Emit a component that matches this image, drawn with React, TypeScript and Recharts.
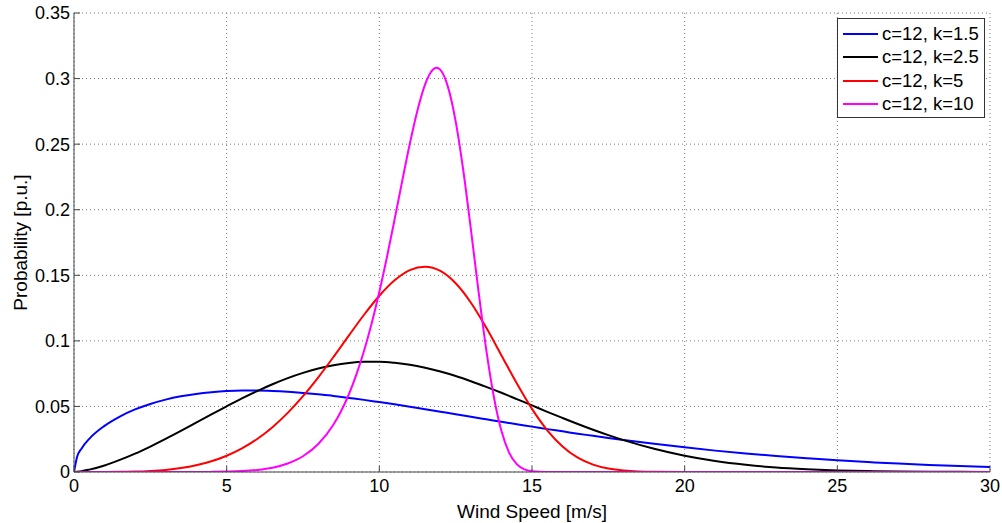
import { LineChart, Line, XAxis, YAxis, CartesianGrid, Legend } from "recharts";

// wind speed grid [m/s] (finer around the k=10 peak)
const windSpeed = [
  0, 0.1, 0.25, 0.5, 1, 1.5, 2, 2.5, 3, 3.5, 4, 4.5, 5, 5.5, 6, 6.5, 7, 7.5, 8, 8.5, 8.75,
  9, 9.25, 9.5, 9.75, 10, 10.25, 10.5, 10.75, 11, 11.25, 11.5, 11.75, 11.875, 12, 12.25, 12.5,
  12.75, 13, 13.25, 13.5, 13.75, 14, 14.25, 14.5, 14.75, 15, 15.5, 16, 16.5, 17, 17.5, 18,
  19, 20, 21, 22, 23, 24, 25, 26, 27, 28, 29, 30,
];

const probK15 = [
  0, 0.0114, 0.018, 0.0253, 0.0352, 0.0423, 0.0477, 0.0519, 0.0552, 0.0577, 0.0595, 0.0608, 0.0617, 0.0621, 0.0621, 0.0618, 0.0612, 0.0603, 0.0592, 0.058, null,
  0.0565, null, 0.055, null, 0.0533, null, 0.0516, null, 0.0498, null, 0.0479, null, null, 0.046, null, 0.0441,
  null, 0.0421, null, 0.0402, null, 0.0383, null, 0.0364, null, 0.0346, 0.0327, 0.031, 0.0292, 0.0276, 0.0259, 0.0244,
  0.0215, 0.0188, 0.0163, 0.0141, 0.0122, 0.0105, 0.0089, 0.0076, 0.0064, 0.0054, 0.0045, 0.0038,
];

const probK25 = [
  0, 0.0002, 0.0006, 0.0018, 0.005, 0.0092, 0.014, 0.0194, 0.0252, 0.0313, 0.0376, 0.0439, 0.0501, 0.0561, 0.0617, 0.0669, 0.0716, 0.0756, 0.0789, 0.0814, null,
  0.0831, null, 0.084, null, 0.0841, null, 0.0833, null, 0.0818, null, 0.0795, null, null, 0.0766, null, 0.0732,
  null, 0.0692, null, 0.0649, null, 0.0604, null, 0.0556, null, 0.0508, 0.0459, 0.0412, 0.0366, 0.0322, 0.0281, 0.0243,
  0.0177, 0.0124, 0.0084, 0.0055, 0.0034, 0.0021, 0.0012, 0.0007, 0.0004, 0.0002, 0.0001, 0,
];

const probK5 = [
  0, 0, 0, 0, 0, 0.0001, 0.0003, 0.0008, 0.0016, 0.003, 0.0051, 0.0082, 0.0124, 0.018, 0.0252, 0.0342, 0.0451, 0.0578, 0.0722, 0.0878, null,
  0.104, null, 0.1199, null, 0.1344, null, 0.1462, null, 0.154, null, 0.1566, null, null, 0.1533, null, 0.1439,
  null, 0.1291, null, 0.1101, null, 0.0889, null, 0.0676, null, 0.0481, 0.0318, 0.0195, 0.0109, 0.0056, 0.0026, 0.0011,
  0.0001, 0, 0, 0, 0, 0, 0, 0, 0, 0, 0, 0,
];

const probK10 = [
  0, 0, 0, 0, 0, 0, 0, 0, 0, 0, 0, 0.0001, 0.0003, 0.0007, 0.0016, 0.0033, 0.0065, 0.012, 0.0213, 0.0362, 0.0465,
  0.0591, 0.0744, 0.0924, 0.1134, 0.1374, 0.164, 0.1926, 0.222, 0.2505, 0.2759, 0.2956, 0.3067, 0.3082, 0.3066, 0.2935, 0.2674,
  0.2299, 0.1848, 0.1375, 0.0935, 0.0574, 0.0312, 0.0148, 0.006, 0.002, 0.0006, 0, 0, 0, 0, 0, 0,
  0, 0, 0, 0, 0, 0, 0, 0, 0, 0, 0, 0,
];

const seriesNames = ["c=12, k=1.5", "c=12, k=2.5", "c=12, k=5", "c=12, k=10"];
const seriesColors = ["#0000ff", "#000000", "#ff0000", "#ff00ff"];

const xTicks = [0, 5, 10, 15, 20, 25, 30];
const yTicks = [0, 0.05, 0.1, 0.15, 0.2, 0.25, 0.3, 0.35];

const data = windSpeed.map((v, i) => ({
  v,
  k15: probK15[i],
  k25: probK25[i],
  k5: probK5[i],
  k10: probK10[i],
}));

const font = "'Liberation Sans', Arial, sans-serif";
const tickStyle = { fill: "#000", fontSize: 18, fontFamily: font };
const labelStyle = { fill: "#000", fontSize: 19, fontFamily: font };

function LegendBox({ payload }: any) {
  // keep the plotting order, not alphabetical
  const items = [...(payload || [])].sort(
    (a: any, b: any) => seriesNames.indexOf(a.value) - seriesNames.indexOf(b.value)
  );
  return (
    <div
      style={{
        width: 148,
        height: 100,
        boxSizing: "border-box",
        border: "1px solid #333",
        background: "#fff",
        paddingTop: 3,
        fontFamily: font,
        fontSize: 18.5,
      }}
    >
      {items.map((p: any) => (
        <div key={p.value} style={{ display: "flex", alignItems: "center", height: 23.5 }}>
          <span style={{ display: "inline-block", width: 35, height: 2, background: p.color, marginLeft: 5, marginRight: 4 }} />
          <span style={{ color: "#000", whiteSpace: "nowrap" }}>{p.value}</span>
        </div>
      ))}
    </div>
  );
}

export default function App() {
  const keys = ["k15", "k25", "k5", "k10"];
  return (
    <div style={{ position: "absolute", left: 0, top: 0, width: 1002, height: 523, background: "#fff" }}>
      <LineChart width={1002} height={523} data={data} margin={{ top: 13, right: 12, bottom: 0, left: 0 }} style={{ fontFamily: font }}>
        <CartesianGrid stroke="#777" strokeDasharray="1 3" />
        <XAxis
          dataKey="v"
          type="number"
          domain={[0, 30]}
          ticks={xTicks}
          height={51}
          stroke="#444"
          tick={tickStyle}
          tickSize={-6}
          tickMargin={13}
          allowDataOverflow
          label={{ value: "Wind Speed [m/s]", position: "insideBottom", offset: 5, style: labelStyle }}
        />
        <XAxis xAxisId="top" orientation="top" type="number" domain={[0, 30]} ticks={xTicks} height={0} stroke="#444" tick={false} tickSize={-6} />
        <YAxis
          type="number"
          domain={[0, 0.35]}
          ticks={yTicks}
          width={74}
          stroke="#444"
          tick={tickStyle}
          tickSize={-6}
          tickMargin={10}
          allowDataOverflow
          label={{ value: "Probability [p.u.]", angle: -90, position: "center", dx: -17, style: labelStyle }}
        />
        <YAxis yAxisId="right" orientation="right" type="number" domain={[0, 0.35]} ticks={yTicks} width={0} stroke="#444" tick={false} tickSize={-6} />
        <Legend
          layout="vertical"
          align="center"
          verticalAlign="middle"
          content={<LegendBox />}
          wrapperStyle={{ left: 837, top: 18, width: 148, height: 100 }}
        />
        {keys.map((k, i) => (
          <Line
            key={k}
            dataKey={k}
            name={seriesNames[i]}
            stroke={seriesColors[i]}
            strokeWidth={2}
            type="monotone"
            dot={false}
            connectNulls
            legendType="line"
            isAnimationActive={false}
          />
        ))}
      </LineChart>
    </div>
  );
}
